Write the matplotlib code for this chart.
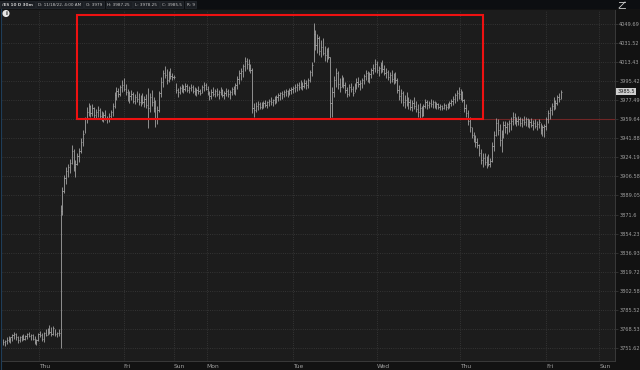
#!/usr/bin/env python3

import matplotlib
matplotlib.use('Agg')

import matplotlib.pyplot as plt
from matplotlib.patches import Rectangle
from matplotlib.lines   import Line2D
from matplotlib.ticker  import NullLocator


# ------------------------------------------------------------------------------
# /ES 30 minute bars, 11/10/22 .. 11/18/22 4:00 AM
#
highs = [
    3760, 3759, 3761, 3762, 3761, 3764, 3766, 3765, 3762, 3762,
    3763, 3764, 3763, 3765, 3766, 3764, 3764, 3762, 3760, 3765,
    3767, 3765, 3766, 3768, 3769, 3772, 3770, 3771, 3768, 3766,
    3768, 3880, 3897, 3908, 3915, 3918, 3923, 3936, 3932, 3922,
    3928, 3933, 3942, 3950, 3962, 3971, 3975, 3973, 3974, 3971,
    3969, 3972, 3970, 3967, 3966, 3968, 3963, 3965, 3968, 3975,
    3985, 3990, 3989, 3992, 3996, 3998, 3993, 3988, 3986, 3987,
    3985, 3983, 3986, 3984, 3982, 3984, 3981, 3983, 3989, 3984,
    3987, 3980, 3978, 3972, 3986, 3999, 4006, 4010, 4007, 4005,
    4008, 4003, 4001, 3994, 3989, 3991, 3993, 3992, 3994, 3993,
    3991, 3993, 3992, 3990, 3989, 3991, 3988, 3992, 3995, 3994,
    3991, 3986, 3988, 3990, 3988, 3989, 3987, 3990, 3988, 3986,
    3989, 3988, 3987, 3990, 3991, 3994, 4000, 4006, 4008, 4012,
    4018, 4017, 4016, 4012, 4008, 3975, 3976, 3977, 3976, 3976,
    3977, 3978, 3977, 3979, 3980, 3979, 3981, 3982, 3984, 3985,
    3986, 3987, 3988, 3987, 3989, 3990, 3991, 3993, 3994, 3995,
    3996, 3995, 3997, 3996, 3998, 4006, 4013, 4051, 4044, 4040,
    4038, 4034, 4036, 4029, 4027, 4028, 4018, 3990, 4000, 4008,
    4005, 3998, 4001, 3999, 3995, 3990, 3993, 3994, 3991, 3994,
    3998, 3999, 3996, 3998, 4002, 4006, 4005, 4004, 4008, 4012,
    4016, 4014, 4010, 4013, 4015, 4011, 4008, 4006, 4004, 4006,
    4003, 4004, 3998, 3992, 3988, 3986, 3982, 3985, 3980, 3979,
    3978, 3980, 3977, 3974, 3975, 3972, 3974, 3979, 3978, 3977,
    3979, 3978, 3977, 3976, 3975, 3974, 3973, 3975, 3974, 3975,
    3977, 3979, 3981, 3984, 3987, 3990, 3988, 3986, 3979, 3974,
    3968, 3962, 3952, 3948, 3945, 3942, 3937, 3932, 3928, 3928,
    3925, 3927, 3924, 3938, 3949, 3961, 3960, 3955, 3950, 3958,
    3958, 3957, 3959, 3962, 3966, 3965, 3962, 3963, 3962, 3961,
    3963, 3962, 3961, 3960, 3961, 3959, 3960, 3958, 3960, 3956,
    3954, 3955, 3962, 3968, 3971, 3975, 3980, 3978, 3982, 3984,
    3987.25]

lows = [
    3754, 3753, 3755, 3757, 3756, 3758, 3760, 3759, 3756, 3757,
    3758, 3759, 3759, 3760, 3761, 3759, 3759, 3755, 3754, 3758,
    3761, 3758, 3757, 3762, 3763, 3764, 3762, 3763, 3762, 3761,
    3762, 3752, 3871, 3891, 3900, 3906, 3910, 3918, 3912, 3906,
    3917, 3920, 3928, 3935, 3947, 3956, 3963, 3962, 3963, 3961,
    3960, 3962, 3961, 3958, 3957, 3959, 3956, 3957, 3960, 3963,
    3970, 3978, 3980, 3981, 3985, 3986, 3982, 3977, 3975, 3978,
    3975, 3974, 3976, 3973, 3972, 3974, 3971, 3970, 3951, 3966,
    3972, 3966, 3952, 3955, 3966, 3980, 3990, 3998, 3993, 3995,
    3997, 3996, 3997, 3984, 3980, 3983, 3985, 3984, 3986, 3985,
    3984, 3986, 3984, 3982, 3981, 3983, 3982, 3984, 3986, 3987,
    3982, 3978, 3979, 3981, 3980, 3981, 3979, 3982, 3980, 3979,
    3981, 3980, 3979, 3982, 3983, 3982, 3988, 3993, 3996, 3999,
    4005, 4007, 4005, 4003, 3965, 3962, 3966, 3968, 3969, 3969,
    3970, 3971, 3970, 3972, 3973, 3972, 3974, 3975, 3977, 3978,
    3979, 3980, 3981, 3980, 3982, 3983, 3984, 3985, 3986, 3987,
    3988, 3987, 3989, 3988, 3989, 3995, 4000, 4013, 4025, 4022,
    4020, 4018, 4020, 4014, 4013, 4016, 3960, 3962, 3980, 3990,
    3988, 3985, 3990, 3989, 3984, 3980, 3981, 3985, 3981, 3985,
    3988, 3990, 3987, 3989, 3993, 3996, 3995, 3994, 3998, 4002,
    4004, 4003, 4000, 4003, 4004, 4001, 3998, 3996, 3994, 3995,
    3993, 3994, 3984, 3978, 3975, 3972, 3970, 3972, 3969, 3968,
    3967, 3969, 3966, 3962, 3961, 3962, 3963, 3970, 3969, 3970,
    3971, 3970, 3970, 3969, 3969, 3968, 3968, 3969, 3968, 3969,
    3970, 3972, 3973, 3975, 3977, 3979, 3978, 3976, 3966, 3962,
    3954, 3948, 3942, 3938, 3934, 3933, 3925, 3918, 3915, 3917,
    3914, 3916, 3915, 3920, 3930, 3944, 3945, 3935, 3929, 3942,
    3947, 3946, 3948, 3950, 3954, 3955, 3953, 3954, 3953, 3952,
    3954, 3953, 3952, 3951, 3952, 3950, 3951, 3950, 3951, 3946,
    3944, 3943, 3950, 3956, 3960, 3964, 3968, 3969, 3973, 3976,
    3978.25]

closes = [
    3757, 3758, 3759, 3760, 3761, 3763, 3764, 3761, 3759, 3761,
    3762, 3760, 3762, 3764, 3762, 3763, 3760, 3757, 3759, 3764,
    3763, 3760, 3765, 3763, 3768, 3766, 3764, 3769, 3764, 3765,
    3765, 3875, 3893, 3905, 3912, 3915, 3919, 3930, 3915, 3918,
    3925, 3930, 3938, 3946, 3960, 3966, 3972, 3965, 3970, 3964,
    3966, 3968, 3963, 3962, 3964, 3960, 3961, 3963, 3966, 3972,
    3982, 3986, 3983, 3990, 3992, 3988, 3985, 3984, 3981, 3983,
    3977, 3980, 3979, 3976, 3978, 3976, 3979, 3973, 3970, 3980,
    3976, 3970, 3960, 3968, 3984, 3995, 4003, 4001, 3996, 4002,
    4000, 3999, 3999, 3987, 3985, 3989, 3990, 3988, 3991, 3987,
    3989, 3990, 3986, 3985, 3987, 3986, 3984, 3990, 3992, 3988,
    3984, 3981, 3985, 3983, 3986, 3983, 3985, 3987, 3982, 3984,
    3986, 3983, 3985, 3988, 3986, 3992, 3997, 4003, 4005, 4010,
    4014, 4012, 4008, 4006, 3970, 3968, 3972, 3974, 3971, 3973,
    3975, 3973, 3976, 3977, 3976, 3978, 3979, 3980, 3982, 3984,
    3983, 3985, 3986, 3984, 3987, 3988, 3989, 3990, 3992, 3990,
    3993, 3991, 3994, 3992, 3996, 4004, 4011, 4040, 4030, 4036,
    4024, 4028, 4022, 4020, 4024, 4018, 3975, 3985, 3996, 4003,
    3993, 3990, 3997, 3992, 3987, 3983, 3990, 3988, 3984, 3992,
    3995, 3993, 3994, 3996, 4000, 4003, 3998, 4002, 4006, 4008,
    4012, 4006, 4008, 4011, 4007, 4003, 4004, 3999, 4001, 3997,
    3998, 3996, 3987, 3981, 3984, 3976, 3978, 3974, 3976, 3971,
    3975, 3972, 3969, 3966, 3970, 3964, 3972, 3976, 3973, 3975,
    3974, 3976, 3972, 3974, 3971, 3972, 3970, 3973, 3971, 3974,
    3975, 3977, 3979, 3982, 3984, 3983, 3985, 3978, 3970, 3965,
    3958, 3952, 3945, 3941, 3938, 3936, 3928, 3922, 3924, 3920,
    3922, 3918, 3921, 3935, 3945, 3956, 3950, 3940, 3946, 3954,
    3952, 3955, 3956, 3958, 3962, 3959, 3958, 3960, 3956, 3959,
    3957, 3960, 3955, 3957, 3954, 3956, 3953, 3955, 3957, 3950,
    3952, 3953, 3960, 3965, 3968, 3972, 3977, 3975, 3980, 3979,
    3985.5]

assert len(highs) == len(lows) == len(closes)

# right hand price scale (log spaced) and day separators
price_ticks  = [3751.62, 3768.53, 3785.52, 3802.58, 3819.72, 3836.93,
                3854.23, 3871.6,  3889.05, 3906.58, 3924.19, 3941.88,
                3959.64, 3977.49, 3995.42, 4013.43, 4031.52, 4049.69]
price_labels = ['%g' % p for p in price_ticks]

day_names    = ['Thu', 'Fri', 'Sun', 'Mon', 'Tue', 'Wed', 'Thu', 'Fri', 'Sun']
day_starts   = [19.5, 65, 92, 109.5, 156, 201, 245.5, 292, 320.5]

header = ['/ES 10 D 30m', 'D: 11/18/22, 4:00 AM', 'O: 3979', 'H: 3987.25',
          'L: 3978.25', 'C: 3985.5', 'R: 9']
last_price  = 3985.5
level_price = 3959.64

bar_color  = '#a2a2a2'
grid_color = '#3c3c3c'
text_color = '#a0a0a0'


# ------------------------------------------------------------------------------
#
def main():

    W, H = 640, 370
    fig = plt.figure(figsize=(W / 100, H / 100), dpi=100, facecolor='#121212')

    # header strip, fields laid out left to right
    fig.add_artist(Rectangle((0, 1 - 9 / H), 1, 9 / H, transform=fig.transFigure,
                             facecolor='#0c0e11', edgecolor='none'))
    renderer = fig.canvas.get_renderer()
    x = 2
    for i, s in enumerate(header):
        t = fig.text(x / W, 1 - 4.6 / H, s, fontsize=3.0, color='#c8c8c8',
                     ha='left', va='center',
                     family=['Liberation Sans Narrow', 'DejaVu Sans'],
                     fontweight='bold' if i == 0 else 'normal',
                     bbox=dict(boxstyle='square,pad=0.4', fc='#1b1e23',
                               ec='#2c3036', lw=0.4))
        x += t.get_window_extent(renderer).width + 5

    # expand icon, top right
    for xs, ys in (([619, 625], [8, 2]), ([619, 625], [2, 2]),
                   ([619, 625], [8, 8])):
        fig.add_artist(Line2D([v / W for v in xs], [1 - v / H for v in ys],
                              color='#d0d0d0', lw=0.6))

    # thin blue frame on the left
    fig.add_artist(Line2D([0.6 / W, 0.6 / W], [0, 1 - 9 / H],
                          color='#1f3d58', lw=0.8))

    ax = fig.add_axes([2 / W, 9 / H, 613 / W, 351 / H])
    ax.set_facecolor('#1c1c1c')

    bars = list(range(len(highs)))
    ax.vlines(bars, lows, highs, color=bar_color, lw=0.6, zorder=3)
    ax.hlines(closes, bars, [b + 0.7 for b in bars], color=bar_color,
              lw=0.55, zorder=3)

    ax.set_yscale('log')
    ax.set_ylim(3740.1, 4063.0)
    ax.set_xlim(-0.5, 329)

    ax.set_yticks(price_ticks, labels=price_labels)
    ax.yaxis.set_minor_locator(NullLocator())
    ax.yaxis.tick_right()
    ax.tick_params(axis='y', colors=grid_color, labelcolor=text_color,
                   labelsize=3.6, length=2, width=0.5, pad=1)

    ax.set_xticks(day_starts, labels=day_names)
    ax.tick_params(axis='x', length=0, labelsize=4.3, labelcolor=text_color,
                   pad=2)
    for lbl in ax.get_xticklabels():
        lbl.set_horizontalalignment('left')

    ax.grid(True, color=grid_color, ls=':', lw=0.6, zorder=0)
    for side in ('left', 'top'):
        ax.spines[side].set_visible(False)
    for side in ('right', 'bottom'):
        ax.spines[side].set_color('#3a3a3a')
        ax.spines[side].set_linewidth(0.7)

    # price level line and the drawn range box
    ax.hlines(level_price, 39.8, 329, color='#702626', lw=0.8, zorder=2)
    ax.add_patch(Rectangle((39.8, level_price), 258.2 - 39.8,
                           4058.3 - level_price, fill=False,
                           edgecolor='#ee1111', lw=1.5, zorder=4))

    # last price marker on the scale
    ax.text(1.004, last_price, '%g' % last_price,
            transform=ax.get_yaxis_transform(), fontsize=3.6, color='#1a1a1a',
            ha='left', va='center', clip_on=False,
            bbox=dict(boxstyle='square,pad=0.25', fc='#cfcfcf', ec='none'))

    # info icon
    fig.text(6 / W, 1 - 13.5 / H, 'i', fontsize=3.8, color='#1c1c1c',
             ha='center', va='center', fontweight='bold',
             bbox=dict(boxstyle='circle,pad=0.2', fc='#e6e6e6', ec='none'))

    fig.savefig('out.png', dpi=100, facecolor=fig.get_facecolor())


# ------------------------------------------------------------------------------
#
if __name__ == '__main__':

    main()


# ------------------------------------------------------------------------------
